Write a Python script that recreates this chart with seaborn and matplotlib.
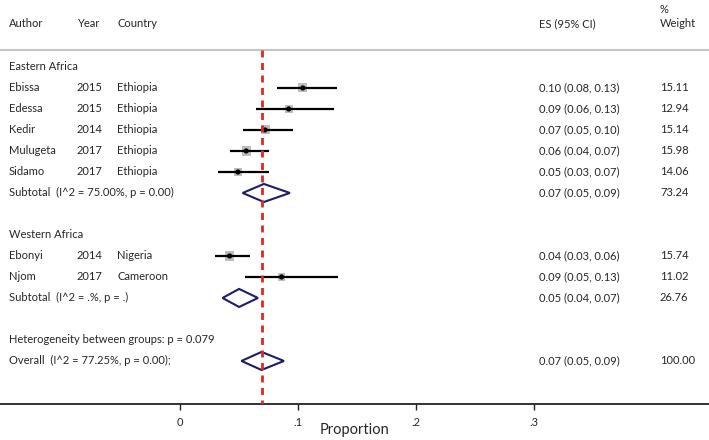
import numpy as np
import pandas as pd
import seaborn as sns
import matplotlib.pyplot as plt
import matplotlib.transforms as mtransforms

# ---------------- data ----------------
authors = ["Ebissa", "Edessa", "Kedir", "Mulugeta", "Sidamo", "Ebonyi", "Njom"]
years = ["2015", "2015", "2014", "2017", "2017", "2014", "2017"]
countries = ["Ethiopia", "Ethiopia", "Ethiopia", "Ethiopia", "Ethiopia", "Nigeria", "Cameroon"]
es = [0.104, 0.092, 0.072, 0.056, 0.049, 0.042, 0.086]
lo = [0.082, 0.064, 0.053, 0.042, 0.032, 0.030, 0.055]
hi = [0.133, 0.130, 0.096, 0.075, 0.075, 0.059, 0.134]
weights = [15.11, 12.94, 15.14, 15.98, 14.06, 15.74, 11.02]
es_labels = ["0.10 (0.08, 0.13)", "0.09 (0.06, 0.13)", "0.07 (0.05, 0.10)",
             "0.06 (0.04, 0.07)", "0.05 (0.03, 0.07)", "0.04 (0.03, 0.06)",
             "0.09 (0.05, 0.13)"]
weight_labels = ["15.11", "12.94", "15.14", "15.98", "14.06", "15.74", "11.02"]

pooled_names = ["Subtotal  (I^2 = 75.00%, p = 0.00)",
                "Subtotal  (I^2 = .%, p = .)",
                "Overall  (I^2 = 77.25%, p = 0.00);"]
pooled_es = [0.071, 0.050, 0.069]
pooled_lo = [0.053, 0.036, 0.052]
pooled_hi = [0.093, 0.066, 0.088]
pooled_labels = ["0.07 (0.05, 0.09)", "0.05 (0.04, 0.07)", "0.07 (0.05, 0.09)"]
pooled_weights = ["73.24", "26.76", "100.00"]

groups = ["Eastern Africa", "Western Africa"]
heterogeneity = "Heterogeneity between groups: p = 0.079"
x_ticks = [0, 0.1, 0.2, 0.3]
x_ticklabels = ["0", ".1", ".2", ".3"]

# row layout (index of table rows)
study_rows = [1, 2, 3, 4, 5, 9, 10]
pooled_rows = [6, 11, 14]
group_rows = [0, 8]
het_row = 13

# ---------------- figure ----------------
sns.set_theme(style="white")
plt.rcParams['font.family'] = ['Lato', 'DejaVu Sans']

fig = plt.figure(figsize=(7.09, 4.40), dpi=100)
ax = fig.add_axes([0, 36 / 440, 1, 404 / 440])
ax.set_xlim(-0.1525, 0.448)
ax.set_ylim(16.05, -3.19)

df = pd.DataFrame({"row": study_rows, "es": es, "lo": lo, "hi": hi, "weight": weights})

# confidence intervals
ax.hlines(df["row"], df["lo"], df["hi"], color="black", lw=1.6, zorder=3)
# weight squares
wmin, wmax = min(weights), max(weights)
k = 42 / 15.11
sns.scatterplot(data=df, x="es", y="row", size="weight",
                sizes=(k * wmin, k * wmax), size_norm=(wmin, wmax),
                marker="s", color="#bdbdbd", edgecolor="none",
                legend=False, ax=ax, zorder=2)
# point estimates
sns.scatterplot(data=df, x="es", y="row", marker="o", color="black",
                s=14, edgecolor="none", legend=False, ax=ax, zorder=4)

# diamonds
for e, l, h, r in zip(pooled_es, pooled_lo, pooled_hi, pooled_rows):
    ax.fill([l, e, h, e], [r, r - 0.43, r, r + 0.43], fill=False,
            edgecolor="#1c1c6e", lw=1.5, zorder=3)

# overall reference line
ax.vlines(pooled_es[-1], -0.81, 16.05, color="#e3261f", lw=2,
          linestyles=(0, (2.5, 2)), zorder=5)

# header separator
ax.axhline(-0.81, color="#c4c4c4", lw=1.5)

# text columns
tr = mtransforms.blended_transform_factory(ax.transAxes, ax.transData)
fs = 8
cx = [9 / 709, 77 / 709, 117 / 709, 539 / 709, 660 / 709]
hy = -2.05
for x, t in zip([cx[0], cx[1], cx[2], cx[3], cx[4]],
                ["Author", "Year", "Country", "ES (95% CI)", "Weight"]):
    ax.text(x, hy, t, transform=tr, va="center", fontsize=fs)
ax.text(cx[4], -2.76, "%", transform=tr, va="center", fontsize=fs)

for g, r in zip(groups, group_rows):
    ax.text(cx[0], r, g, transform=tr, va="center", fontsize=fs)
for i, r in enumerate(study_rows):
    ax.text(cx[0], r, authors[i], transform=tr, va="center", fontsize=fs)
    ax.text(cx[1], r, years[i], transform=tr, va="center", fontsize=fs)
    ax.text(cx[2], r, countries[i], transform=tr, va="center", fontsize=fs)
    ax.text(cx[3], r, es_labels[i], transform=tr, va="center", fontsize=fs)
    ax.text(cx[4], r, weight_labels[i], transform=tr, va="center", fontsize=fs)
for i, r in enumerate(pooled_rows):
    ax.text(cx[0], r, pooled_names[i], transform=tr, va="center", fontsize=fs)
    ax.text(cx[3], r, pooled_labels[i], transform=tr, va="center", fontsize=fs)
    ax.text(cx[4], r, pooled_weights[i], transform=tr, va="center", fontsize=fs)
ax.text(cx[0], het_row, heterogeneity, transform=tr, va="center", fontsize=fs)

# axis styling
for s in ["top", "left", "right"]:
    ax.spines[s].set_visible(False)
ax.spines["bottom"].set_color("#222222")
ax.spines["bottom"].set_linewidth(1.3)
ax.set_yticks([])
ax.set_xticks(x_ticks)
ax.set_xticklabels(x_ticklabels)
ax.tick_params(axis="x", bottom=True, direction="out", length=4, width=1,
               color="#222222", labelsize=8, pad=5)
ax.set_xlabel("Proportion", fontsize=10.5, labelpad=-3)
ax.set_ylabel("")

fig.savefig("out.png", dpi=100)
